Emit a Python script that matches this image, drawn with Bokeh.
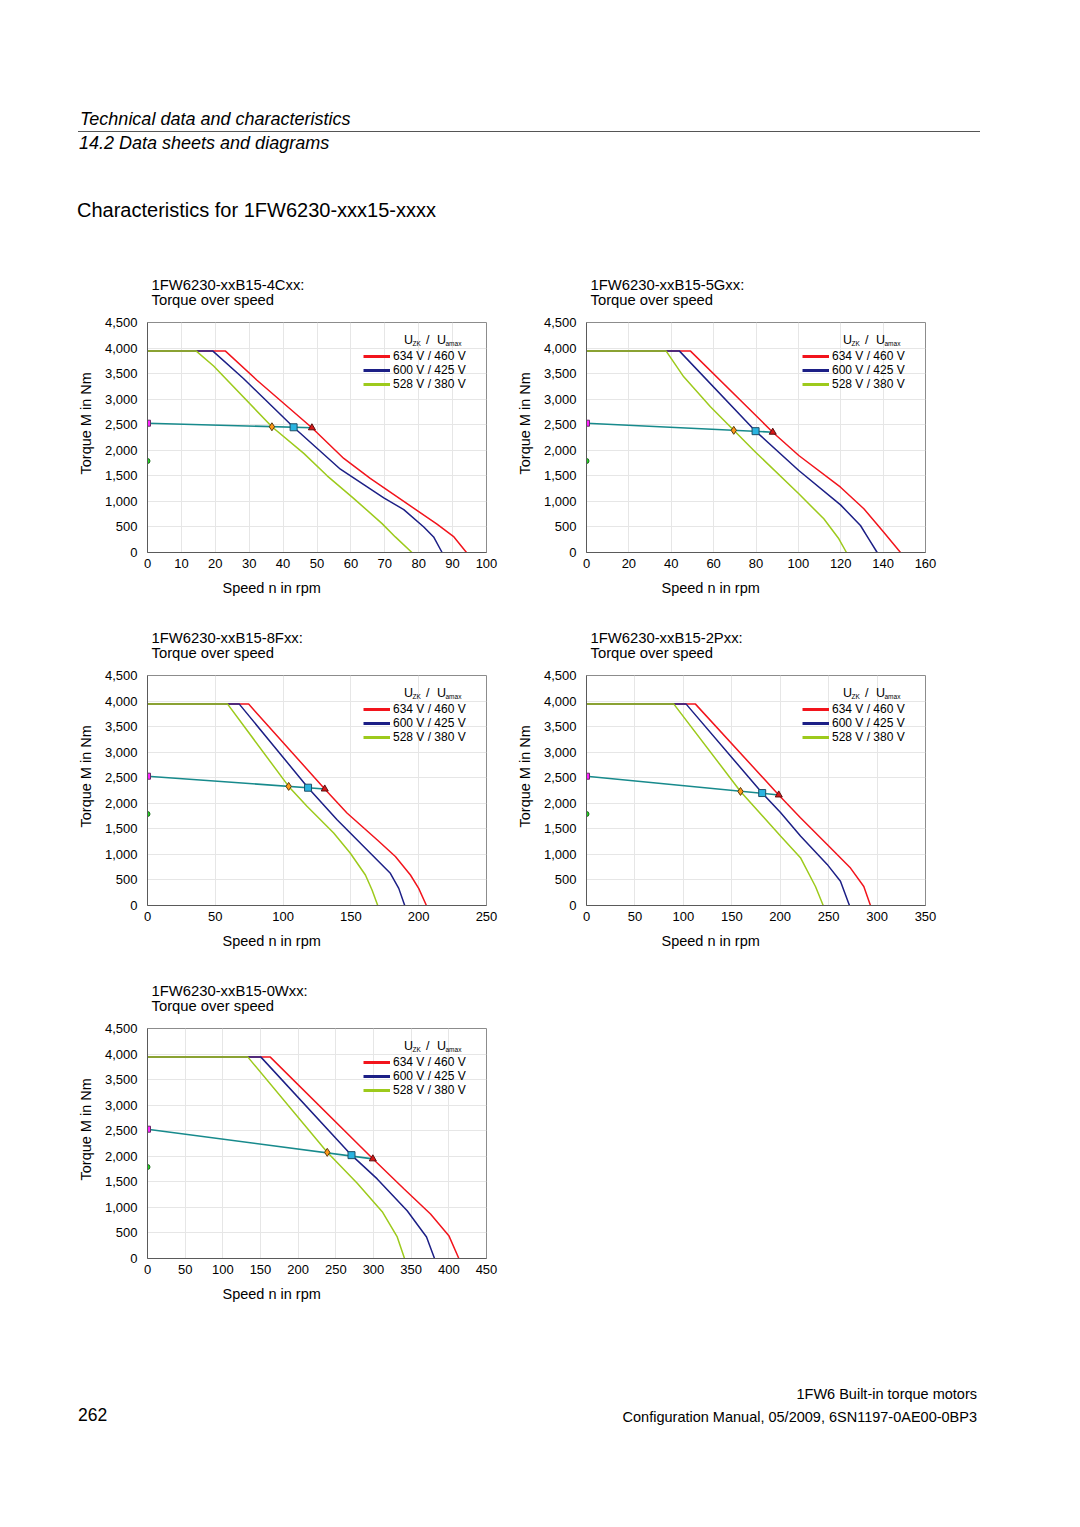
import numpy as np
from bokeh.plotting import figure
from bokeh.models import (Range1d, FixedTicker, NumeralTickFormatter, Title, Legend,
                          LegendItem, Label, Div)
from bokeh.layouts import column, row
from bokeh.embed import file_html
from bokeh.resources import INLINE

FONT = "Liberation Sans"

# ---------------- shared data ----------------
voltage_labels = ["634 V / 460 V", "600 V / 425 V", "528 V / 380 V"]
torque_ticks = [0, 500, 1000, 1500, 2000, 2500, 3000, 3500, 4000, 4500]
torque_m0 = 1790     # standstill torque point (green dot)
torque_mn0 = 2530    # rated torque line start (magenta square)
subtitle = "Torque over speed"
x_label = "Speed n in rpm"
y_label = "Torque M in Nm"

# ---------------- 1FW6230-xxB15-4Cxx ----------------
c1_name = "1FW6230-xxB15-4Cxx:"
c1_speed_ticks = [0, 10, 20, 30, 40, 50, 60, 70, 80, 90, 100]
c1_red_n = [0, 23.0, 32.3, 48.5, 57.9, 65.7, 75.6, 85.4, 90.4, 94.1]
c1_red_m = [3940, 3940, 3370, 2440, 1840, 1450, 1000, 555, 305, 0]
c1_blue_n = [0, 19.3, 28.3, 43.1, 56.9, 69.7, 75.6, 81.5, 84.4, 86.9]
c1_blue_m = [3940, 3940, 3405, 2450, 1630, 1070, 840, 500, 305, 0]
c1_green_n = [0, 14.4, 19.5, 36.7, 46.1, 53.0, 60.8, 69.2, 73.1, 78.0]
c1_green_m = [3940, 3940, 3650, 2460, 1940, 1500, 1060, 565, 305, 0]
c1_tri = (48.5, 2440)
c1_sq = (43.1, 2450)
c1_dia = (36.7, 2460)

# ---------------- 1FW6230-xxB15-5Gxx ----------------
c2_name = "1FW6230-xxB15-5Gxx:"
c2_speed_ticks = [0, 20, 40, 60, 80, 100, 120, 140, 160]
c2_red_n = [0, 49.1, 87.9, 100.2, 119.9, 130.9, 140.3, 148.2]
c2_red_m = [3940, 3940, 2354, 1898, 1278, 855, 397, 0]
c2_blue_n = [0, 43.9, 79.8, 100.2, 119.9, 129.3, 133.2, 137.2]
c2_blue_m = [3940, 3940, 2374, 1604, 932, 528, 268, 0]
c2_green_n = [0, 37.6, 45.9, 58.5, 69.5, 79.8, 100.2, 112.0, 119.1, 122.7]
c2_green_m = [3940, 3940, 3437, 2850, 2390, 1962, 1148, 659, 268, 0]
c2_tri = (87.9, 2354)
c2_sq = (79.8, 2374)
c2_dia = (69.5, 2390)

# ---------------- 1FW6230-xxB15-8Fxx ----------------
c3_name = "1FW6230-xxB15-8Fxx:"
c3_speed_ticks = [0, 50, 100, 150, 200, 250]
c3_red_n = [0, 74.6, 130.7, 147.1, 169.3, 182.8, 193.9, 200.0, 205.7]
c3_red_m = [3940, 3940, 2280, 1811, 1286, 958, 597, 335, 0]
c3_blue_n = [0, 67.7, 118.4, 139.8, 164.4, 179.1, 185.3, 189.7]
c3_blue_m = [3940, 3940, 2305, 1679, 1023, 630, 335, 0]
c3_green_n = [0, 59.1, 104.1, 117.6, 137.3, 149.6, 160.7, 165.6, 169.8]
c3_green_m = [3940, 3940, 2330, 1942, 1417, 1023, 597, 302, 0]
c3_tri = (130.7, 2280)
c3_sq = (118.4, 2305)
c3_dia = (104.1, 2330)

# ---------------- 1FW6230-xxB15-2Pxx ----------------
c4_name = "1FW6230-xxB15-2Pxx:"
c4_speed_ticks = [0, 50, 100, 150, 200, 250, 300, 350]
c4_red_n = [0, 112.5, 198.5, 220.9, 248.5, 272.6, 286.3, 293.2]
c4_red_m = [3940, 3940, 2163, 1718, 1193, 732, 372, 0]
c4_blue_n = [0, 102.9, 181.4, 200.3, 220.9, 248.5, 262.2, 271.5]
c4_blue_m = [3940, 3940, 2200, 1820, 1361, 804, 476, 0]
c4_green_n = [0, 90.2, 159.0, 200.3, 220.9, 236.4, 244.4]
c4_green_m = [3940, 3940, 2232, 1361, 935, 372, 0]
c4_tri = (198.5, 2163)
c4_sq = (181.4, 2200)
c4_dia = (159.0, 2232)

# ---------------- 1FW6230-xxB15-0Wxx ----------------
c5_name = "1FW6230-xxB15-0Wxx:"
c5_speed_ticks = [0, 50, 100, 150, 200, 250, 300, 350, 400, 450]
c5_red_n = [0, 163.0, 299.1, 340.3, 375.7, 400.0, 413.3]
c5_red_m = [3940, 3940, 1950, 1364, 872, 447, 0]
c5_blue_n = [0, 150.6, 270.8, 304.9, 344.7, 370.4, 381.0]
c5_blue_m = [3940, 3940, 2022, 1557, 935, 421, 0]
c5_green_n = [0, 133.3, 238.6, 278.4, 311.6, 331.5, 341.2]
c5_green_m = [3940, 3940, 2077, 1472, 915, 421, 0]
c5_tri = (299.1, 1950)
c5_sq = (270.8, 2022)
c5_dia = (238.6, 2077)

RED = "#f2141c"
BLUE = "#1c1f86"
GREEN = "#9dca1c"
TEAL = "#178a8c"

charts = [
    dict(name=c1_name, ticks=c1_speed_ticks, red=(c1_red_n, c1_red_m), blue=(c1_blue_n, c1_blue_m),
         green=(c1_green_n, c1_green_m), tri=c1_tri, sq=c1_sq, dia=c1_dia),
    dict(name=c2_name, ticks=c2_speed_ticks, red=(c2_red_n, c2_red_m), blue=(c2_blue_n, c2_blue_m),
         green=(c2_green_n, c2_green_m), tri=c2_tri, sq=c2_sq, dia=c2_dia),
    dict(name=c3_name, ticks=c3_speed_ticks, red=(c3_red_n, c3_red_m), blue=(c3_blue_n, c3_blue_m),
         green=(c3_green_n, c3_green_m), tri=c3_tri, sq=c3_sq, dia=c3_dia),
    dict(name=c4_name, ticks=c4_speed_ticks, red=(c4_red_n, c4_red_m), blue=(c4_blue_n, c4_blue_m),
         green=(c4_green_n, c4_green_m), tri=c4_tri, sq=c4_sq, dia=c4_dia),
    dict(name=c5_name, ticks=c5_speed_ticks, red=(c5_red_n, c5_red_m), blue=(c5_blue_n, c5_blue_m),
         green=(c5_green_n, c5_green_m), tri=c5_tri, sq=c5_sq, dia=c5_dia),
]

FRAME_W, FRAME_H = 339, 230
TOP_B, BOT_B, RIGHT_B = 66, 57, 20
HEADER_H = 322 - TOP_B


def make_chart(ch, left_border):
    xmax = ch["ticks"][-1]
    p = figure(width=left_border + FRAME_W + RIGHT_B, height=TOP_B + FRAME_H + BOT_B,
               x_range=Range1d(0, xmax), y_range=Range1d(0, 4500),
               output_backend="svg", toolbar_location=None, title=None,
               min_border_left=left_border, min_border_right=RIGHT_B,
               min_border_top=TOP_B, min_border_bottom=BOT_B)
    p.background_fill_color = "white"
    p.border_fill_color = "white"
    p.outline_line_color = "#8c8c8c"
    p.outline_line_width = 1

    # axes
    p.xaxis.ticker = FixedTicker(ticks=ch["ticks"])
    p.yaxis.ticker = FixedTicker(ticks=torque_ticks)
    p.yaxis.formatter = NumeralTickFormatter(format="0,0")
    for ax in (p.xaxis[0], p.yaxis[0]):
        ax.axis_line_color = "#5a5a5a"
        ax.axis_line_width = 1
        ax.major_tick_line_color = None
        ax.major_tick_out = 0
        ax.major_tick_in = 0
        ax.minor_tick_line_color = None
        ax.major_label_text_font = FONT
        ax.major_label_text_font_size = "13px"
        ax.major_label_text_color = "#000000"
    p.xaxis.major_label_standoff = 6
    p.yaxis.major_label_standoff = 10

    p.xgrid.ticker = FixedTicker(ticks=ch["ticks"])
    p.ygrid.ticker = FixedTicker(ticks=torque_ticks)
    p.grid.grid_line_color = "#e6e6e6"
    p.grid.grid_line_width = 1

    # titles
    t_main = Title(text=ch["name"] + "\n" + subtitle, align="left", offset=4, standoff=29,
                   text_font=FONT, text_font_size="14.8px", text_font_style="normal",
                   text_color="#000000", text_line_height=0.95)
    p.add_layout(t_main, "above")
    t_x = Title(text=x_label, align="left", offset=75, standoff=14, text_font=FONT,
                text_font_size="14.5px", text_font_style="normal", text_color="#000000")
    p.add_layout(t_x, "below")
    t_y = Title(text=y_label, align="left", offset=78, standoff=16, text_font=FONT,
                text_font_size="14.5px", text_font_style="normal", text_color="#000000")
    p.add_layout(t_y, "left")

    # curves
    p.line(ch["red"][0], ch["red"][1], line_color=RED, line_width=1.5)
    p.line(ch["blue"][0], ch["blue"][1], line_color=BLUE, line_width=1.5)
    p.line(ch["green"][0], ch["green"][1], line_color=GREEN, line_width=1.5)

    # rated torque line and markers
    p.line([0, ch["tri"][0]], [torque_mn0, ch["tri"][1]], line_color=TEAL, line_width=1.6)
    p.scatter([0], [torque_mn0], marker="square", size=6, fill_color="#ff22ff", line_color="#6a2a6a")
    p.scatter([0], [torque_m0], marker="circle", size=5, fill_color="#22dd22", line_color="#1f6a1f")
    p.scatter([ch["dia"][0]], [ch["dia"][1]], marker="diamond", size=8, fill_color="#ff9a1a", line_color="#5a3a10")
    p.scatter([ch["sq"][0]], [ch["sq"][1]], marker="square", size=7, fill_color="#2ab4e0", line_color="#1e4f66")
    p.scatter([ch["tri"][0]], [ch["tri"][1]], marker="triangle", size=7, fill_color="#d81818", line_color="#5a1010")

    # legend (thicker sample lines, renderers hold no visible points)
    samples = [p.line(x=np.array([np.nan]), y=np.array([np.nan]), line_color=c, line_width=3)
               for c in (RED, BLUE, GREEN)]
    leg = Legend(items=[LegendItem(label=lab, renderers=[r]) for lab, r in zip(voltage_labels, samples)],
                 location=(216, 161.5), padding=0, margin=0, spacing=0,
                 glyph_width=27, glyph_height=14, label_height=14, label_standoff=3,
                 label_text_font=FONT, label_text_font_size="12px", label_text_color="#000000",
                 border_line_color=None, background_fill_alpha=0)
    p.add_layout(leg)

    for txt, x, y, size in [("U", 256.5, 213, "12.5px"), ("ZK", 265, 209.5, "6.5px"),
                            ("/", 278.5, 213, "12.5px"), ("U", 289.5, 213, "12.5px"),
                            ("amax", 298, 209.5, "6.5px")]:
        p.add_layout(Label(x=x, y=y, x_units="screen", y_units="screen", text=txt,
                           text_font=FONT, text_font_size=size, text_baseline="middle",
                           text_color="#000000"))
    return p


figs = [make_chart(ch, 147 if i % 2 == 0 else 80) for i, ch in enumerate(charts)]

header_texts = ["Technical data and characteristics", "14.2 Data sheets and diagrams",
                "Characteristics for 1FW6230-xxx15-xxxx"]
footer_texts = ["1FW6 Built-in torque motors",
                "Configuration Manual, 05/2009, 6SN1197-0AE00-0BP3", "262"]

FF = "font-family:'Liberation Sans',Arial,sans-serif;color:#000;white-space:nowrap;position:absolute;"
header_html = (
    f"<div style=\"position:relative;width:1064px;height:{HEADER_H}px;\">"
    f"<div style=\"{FF}left:80px;top:109.8px;font-size:18px;line-height:18px;font-style:italic;\">{header_texts[0]}</div>"
    f"<div style=\"position:absolute;left:78px;top:131px;width:902px;height:1px;background:#555;\"></div>"
    f"<div style=\"{FF}left:79px;top:134px;font-size:18px;line-height:18px;font-style:italic;\">{header_texts[1]}</div>"
    f"<div style=\"{FF}left:77px;top:200.2px;font-size:20px;line-height:20px;\">{header_texts[2]}</div>"
    "</div>"
)
footer_html = (
    "<div style=\"position:relative;width:1064px;height:140px;\">"
    f"<div style=\"{FF}right:87px;top:71.9px;font-size:14.5px;line-height:14.5px;\">{footer_texts[0]}</div>"
    f"<div style=\"{FF}right:87px;top:94.9px;font-size:14.5px;line-height:14.5px;\">{footer_texts[1]}</div>"
    f"<div style=\"{FF}left:78px;top:91.5px;font-size:17.5px;line-height:17.5px;\">{footer_texts[2]}</div>"
    "</div>"
)

header = Div(text=header_html, width=1064, height=HEADER_H, margin=0)
footer = Div(text=footer_html, width=1064, height=140, margin=0)

layout = column(header, row(figs[0], figs[1]), row(figs[2], figs[3]), row(figs[4]), footer, spacing=0)

with open("out.html", "w") as f:
    f.write(file_html(layout, INLINE))
